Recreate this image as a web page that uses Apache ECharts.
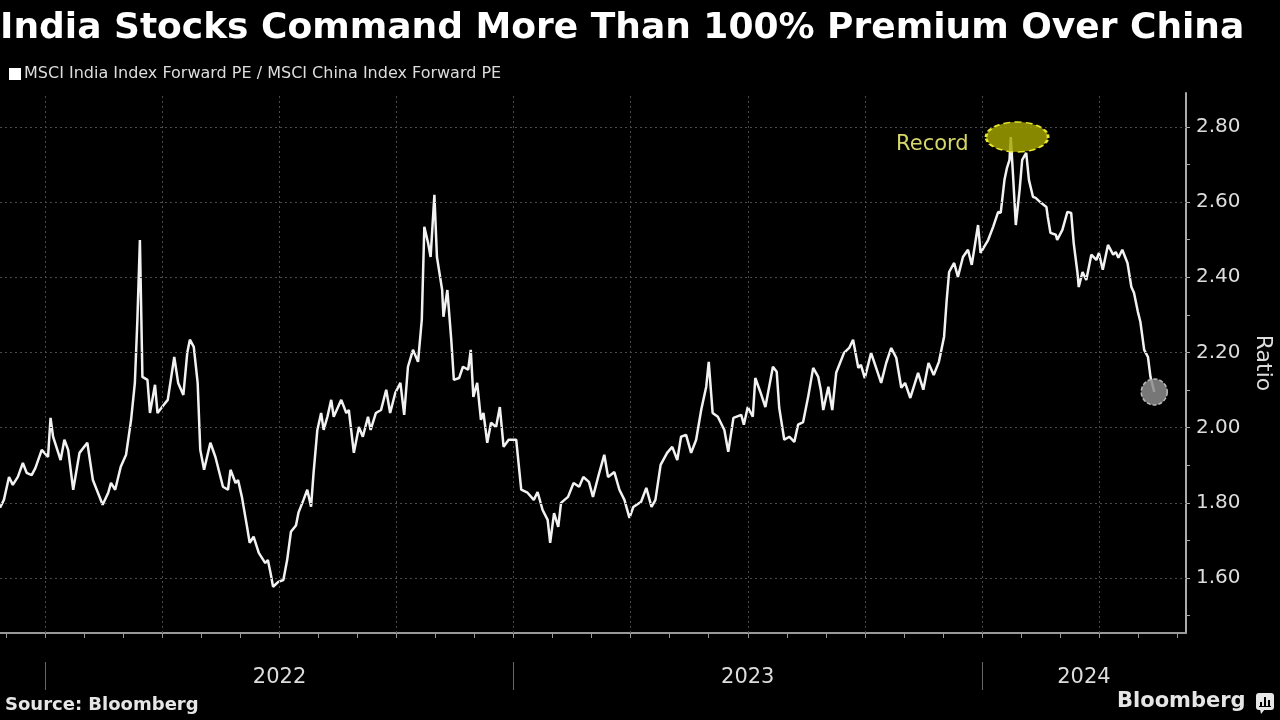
<!DOCTYPE html>
<html><head><meta charset="utf-8">
<script src="https://cdn.jsdelivr.net/npm/echarts@6/dist/echarts.min.js"></script>
<style>html,body{margin:0;padding:0;background:#000;}#c{width:1280px;height:720px;}</style>
</head><body><div id="c"></div>
<script>
const titleText = 'India Stocks Command More Than 100% Premium Over China';
const seriesName = 'MSCI India Index Forward PE / MSCI China Index Forward PE';
const sourceText = 'Source: Bloomberg';
const brandText = 'Bloomberg';
const yAxisName = 'Ratio';
const recordText = 'Record';

const dates = [
'2021-11-26','2021-11-29','2021-12-03','2021-12-06','2021-12-10','2021-12-14','2021-12-17','2021-12-21','2021-12-24','2021-12-29',
'2022-01-03','2022-01-05','2022-01-07','2022-01-13','2022-01-16','2022-01-19','2022-01-23','2022-01-28','2022-02-03','2022-02-07',
'2022-02-14','2022-02-18','2022-02-20','2022-02-23','2022-02-27','2022-03-03','2022-03-07','2022-03-10','2022-03-12','2022-03-14',
'2022-03-16','2022-03-20','2022-03-22','2022-03-26','2022-03-28','2022-04-02','2022-04-05','2022-04-10','2022-04-13','2022-04-17',
'2022-04-20','2022-04-22','2022-04-25','2022-04-28','2022-04-30','2022-05-03','2022-05-08','2022-05-12','2022-05-18','2022-05-22',
'2022-05-24','2022-05-28','2022-05-30','2022-06-02','2022-06-06','2022-06-08','2022-06-11','2022-06-15','2022-06-20','2022-06-22',
'2022-06-24','2022-06-26','2022-06-30','2022-07-04','2022-07-07','2022-07-10','2022-07-14','2022-07-16','2022-07-20','2022-07-23',
'2022-07-26','2022-07-28','2022-07-31','2022-08-03','2022-08-05','2022-08-08','2022-08-11','2022-08-13','2022-08-19','2022-08-23',
'2022-08-25','2022-08-29','2022-09-02','2022-09-05','2022-09-09','2022-09-11','2022-09-15','2022-09-19','2022-09-23','2022-09-26',
'2022-09-30','2022-10-04','2022-10-07','2022-10-10','2022-10-14','2022-10-18','2022-10-21','2022-10-23','2022-10-26','2022-10-28',
'2022-10-31','2022-11-02','2022-11-06','2022-11-07','2022-11-10','2022-11-13','2022-11-15','2022-11-19','2022-11-22','2022-11-26',
'2022-11-28','2022-11-30','2022-12-03','2022-12-06','2022-12-08','2022-12-11','2022-12-14','2022-12-18','2022-12-21','2022-12-24',
'2022-12-28','2023-01-03','2023-01-07','2023-01-12','2023-01-17','2023-01-20','2023-01-24','2023-01-28','2023-01-30','2023-02-02',
'2023-02-05','2023-02-07','2023-02-12','2023-02-16','2023-02-20','2023-02-23','2023-02-27','2023-03-02','2023-03-07','2023-03-11',
'2023-03-14','2023-03-19','2023-03-23','2023-03-27','2023-03-31','2023-04-03','2023-04-09','2023-04-13','2023-04-17','2023-04-20',
'2023-04-24','2023-04-29','2023-05-03','2023-05-07','2023-05-10','2023-05-14','2023-05-18','2023-05-22','2023-05-26','2023-05-30',
'2023-06-01','2023-06-04','2023-06-08','2023-06-13','2023-06-16','2023-06-20','2023-06-26','2023-06-28','2023-07-01','2023-07-05',
'2023-07-07','2023-07-11','2023-07-15','2023-07-21','2023-07-24','2023-07-26','2023-07-30','2023-08-03','2023-08-07','2023-08-10',
'2023-08-14','2023-08-18','2023-08-22','2023-08-26','2023-08-28','2023-08-30','2023-09-03','2023-09-06','2023-09-09','2023-09-15',
'2023-09-19','2023-09-22','2023-09-26','2023-09-28','2023-10-01','2023-10-06','2023-10-10','2023-10-14','2023-10-18','2023-10-22',
'2023-10-26','2023-10-30','2023-11-02','2023-11-06','2023-11-12','2023-11-16','2023-11-20','2023-11-24','2023-11-28','2023-12-02',
'2023-12-04','2023-12-06','2023-12-10','2023-12-13','2023-12-17','2023-12-21','2023-12-24','2023-12-29','2023-12-31','2024-01-06',
'2024-01-10','2024-01-14','2024-01-16','2024-01-19','2024-01-21','2024-01-23','2024-01-24','2024-01-26','2024-01-28','2024-01-31',
'2024-02-02','2024-02-05','2024-02-07','2024-02-10','2024-02-12','2024-02-16','2024-02-20','2024-02-21','2024-02-23','2024-02-27',
'2024-02-28','2024-03-03','2024-03-07','2024-03-10','2024-03-12','2024-03-15','2024-03-16','2024-03-19','2024-03-22','2024-03-26',
'2024-03-30','2024-04-01','2024-04-04','2024-04-08','2024-04-12','2024-04-14','2024-04-16','2024-04-19','2024-04-23','2024-04-26',
'2024-04-28','2024-05-01','2024-05-03','2024-05-06','2024-05-09','2024-05-11','2024-05-14'
];
const ratios = [
1.787,1.808,1.869,1.848,1.869,1.906,1.880,1.874,1.893,1.941,
1.922,2.026,1.976,1.914,1.968,1.941,1.835,1.933,1.960,1.861,
1.795,1.827,1.853,1.835,1.896,1.928,2.021,2.119,2.287,2.499,
2.135,2.127,2.039,2.114,2.039,2.061,2.074,2.188,2.119,2.087,
2.199,2.234,2.215,2.119,1.941,1.888,1.960,1.922,1.843,1.835,
1.888,1.853,1.861,1.816,1.736,1.694,1.710,1.667,1.640,1.648,
1.614,1.577,1.590,1.595,1.648,1.723,1.740,1.774,1.808,1.835,
1.790,1.880,1.994,2.039,1.994,2.029,2.074,2.029,2.074,2.039,
2.047,1.933,2.002,1.976,2.029,1.994,2.039,2.047,2.101,2.039,
2.093,2.119,2.034,2.162,2.207,2.175,2.287,2.534,2.491,2.454,
2.619,2.454,2.366,2.295,2.366,2.234,2.127,2.132,2.162,2.154,
2.207,2.082,2.119,2.021,2.039,1.960,2.013,2.002,2.055,1.949,
1.968,1.968,1.835,1.827,1.808,1.829,1.781,1.755,1.694,1.773,
1.736,1.800,1.816,1.853,1.843,1.869,1.856,1.816,1.880,1.928,
1.869,1.882,1.835,1.808,1.760,1.789,1.803,1.840,1.789,1.808,
1.901,1.933,1.949,1.914,1.976,1.981,1.933,1.968,2.047,2.109,
2.175,2.039,2.029,1.994,1.936,2.026,2.034,2.008,2.055,2.029,
2.132,2.095,2.055,2.162,2.149,2.053,1.968,1.976,1.962,2.008,
2.015,2.082,2.159,2.135,2.101,2.047,2.109,2.047,2.146,2.199,
2.212,2.234,2.159,2.167,2.132,2.199,2.159,2.119,2.172,2.212,
2.186,2.106,2.119,2.079,2.146,2.101,2.172,2.140,2.175,2.242,
2.336,2.414,2.438,2.401,2.454,2.473,2.433,2.539,2.465,2.499,
2.534,2.574,2.571,2.659,2.691,2.712,2.773,2.659,2.539,2.632,
2.712,2.731,2.659,2.614,2.611,2.598,2.587,2.561,2.518,2.513,
2.499,2.526,2.574,2.571,2.491,2.412,2.374,2.414,2.393,2.460,
2.446,2.465,2.420,2.486,2.460,2.467,2.452,2.473,2.438,2.374,
2.359,2.308,2.281,2.207,2.188,2.135,2.095
];

const yLabelValues = [1.6, 1.8, 2.0, 2.2, 2.4, 2.6, 2.8];
const yTickValues = [1.5, 1.6, 1.7, 1.8, 1.9, 2.0, 2.1, 2.2, 2.3, 2.4, 2.5, 2.6, 2.7, 2.8];
const yearLabels = ['2022', '2023', '2024'];
const axisStartDate = '2021-11-26';
const axisEndDate = '2024-06-08';
const yMin = 1.454;
const yMax = 2.89;
const recordDate = '2024-01-29';
const recordValue = 2.773;

// months since 2022-01-01 (fractional)
function toM(s) {
  const p = s.split('-').map(Number);
  const dim = new Date(p[0], p[1], 0).getDate();
  return (p[0] - 2022) * 12 + (p[1] - 1) + (p[2] - 1) / dim;
}

const xMin = toM(axisStartDate);
const xMax = toM(axisEndDate);
const monthTicks = [];
for (let m = Math.ceil(xMin); m <= Math.floor(xMax); m++) monthTicks.push(m);
const quarterLines = monthTicks.filter(m => m % 3 === 0);
const yearBounds = monthTicks.filter(m => m % 12 === 0);
const yearCenters = yearLabels.map(y => {
  const s = toM(y + '-01-01');
  const e = Math.min(toM((+y + 1) + '-01-01'), xMax);
  return (s + e) / 2;
});

const seriesData = dates.map((d, i) => [toM(d), ratios[i]]);
const lastPoint = seriesData[seriesData.length - 1];

const FONT = 'DejaVu Sans';
const chart = echarts.init(document.getElementById('c'), null, { renderer: 'canvas' });

const option = {
  backgroundColor: '#000',
  animation: false,
  title: {
    text: titleText, left: 0, top: 11, padding: 0,
    textStyle: { color: '#fff', fontSize: 36, fontWeight: 'bold', fontFamily: FONT }
  },
  legend: {
    data: [seriesName], left: 9, top: 66, padding: 0,
    icon: 'rect', itemWidth: 12, itemHeight: 12,
    textStyle: { color: '#ddd', fontSize: 16, fontFamily: FONT, padding: [0, 0, 0, -2] }
  },
  grid: { left: 0, right: 94, top: 93, bottom: 87, containLabel: false, outerBoundsMode: 'none' },
  xAxis: [
    {
      type: 'value', min: xMin, max: xMax,
      splitLine: { show: false },
      axisLine: { show: true, onZero: false, lineStyle: { color: '#999', width: 2 } },
      axisTick: { show: true, customValues: monthTicks, length: 5, lineStyle: { color: '#999', width: 1 } },
      axisLabel: {
        customValues: yearCenters, margin: 34, color: '#ddd', fontSize: 21, fontFamily: FONT,
        formatter: v => { const i = yearCenters.findIndex(c => Math.abs(c - v) < 1e-6); return i >= 0 ? yearLabels[i] : ''; }
      }
    },
    {
      type: 'value', min: xMin, max: xMax, position: 'bottom', offset: 29,
      splitLine: { show: false },
      axisLine: { show: false, onZero: false },
      axisTick: { show: true, customValues: yearBounds, length: 28, lineStyle: { color: '#666', width: 1 } },
      axisLabel: { show: false }
    }
  ],
  yAxis: {
    type: 'value', position: 'right', min: yMin, max: yMax,
    splitLine: { show: false },
    axisLine: { show: true, onZero: false, lineStyle: { color: '#aaa', width: 2 } },
    axisTick: { show: true, customValues: yTickValues, length: 4, lineStyle: { color: '#aaa' } },
    axisLabel: {
      customValues: yLabelValues, margin: 10, color: '#ddd', fontSize: 20, fontFamily: FONT,
      formatter: v => v.toFixed(2)
    },
    name: yAxisName, nameLocation: 'middle', nameRotate: -90, nameGap: 66,
    nameTextStyle: { color: '#ddd', fontSize: 22, fontFamily: FONT }
  },
  series: [
    {
      name: 'gridlines', type: 'line', data: [], silent: true, z: 1,
      markLine: {
        silent: true, animation: false, symbol: ['none', 'none'],
        label: { show: false },
        lineStyle: { type: [2, 3], color: '#4a4a4a', width: 1 },
        emphasis: { disabled: true },
        data: quarterLines.map(v => ({ xAxis: v })).concat(yLabelValues.map(v => ({ yAxis: v })))
      }
    },
    {
      name: seriesName, type: 'line', data: seriesData, z: 3,
      showSymbol: false, symbol: 'none',
      lineStyle: { color: '#f2f2f2', width: 2.5 },
      itemStyle: { color: '#fff' },
      markPoint: {
        animation: false, silent: true,
        data: [
          {
            coord: [toM(recordDate), recordValue],
            symbol: 'path://M0,50 A50,50 0 1,1 100,50 A50,50 0 1,1 0,50 Z',
            symbolSize: [62, 30],
            itemStyle: { color: 'rgba(165,165,0,0.82)', borderColor: '#e6e62e', borderWidth: 2, borderType: [5, 3] },
            label: { show: true, position: 'left', distance: 16, offset: [0, 8], formatter: recordText,
                     color: '#d6d66a', fontSize: 21, fontFamily: FONT }
          },
          {
            coord: lastPoint,
            symbol: 'circle', symbolSize: 26,
            itemStyle: { color: 'rgba(140,140,140,0.85)', borderColor: '#bbb', borderWidth: 1.5, borderType: [4, 2] },
            label: { show: false }
          }
        ]
      }
    }
  ],
  graphic: [
    { type: 'text', left: 5, top: 696, style: { text: sourceText, fill: '#e6e6e6', font: 'bold 18px "DejaVu Sans"' } },
    { type: 'text', left: 1117, top: 691, style: { text: brandText, fill: '#e6e6e6', font: 'bold 21px "DejaVu Sans"' } },
    {
      type: 'group', left: 1256, top: 693,
      children: [
        { type: 'rect', shape: { x: 0, y: 0, width: 18, height: 17, r: 3 }, style: { fill: '#e6e6e6' } },
        { type: 'polygon', shape: { points: [[4, 16], [9, 16], [5, 21]] }, style: { fill: '#e6e6e6' } },
        { type: 'rect', shape: { x: 4, y: 9, width: 2, height: 5 }, style: { fill: '#000' } },
        { type: 'rect', shape: { x: 8, y: 4, width: 2, height: 10 }, style: { fill: '#000' } },
        { type: 'rect', shape: { x: 12, y: 7, width: 2, height: 7 }, style: { fill: '#000' } },
        { type: 'rect', shape: { x: 3, y: 13, width: 12, height: 1 }, style: { fill: '#000' } }
      ]
    }
  ]
};
chart.setOption(option);
</script>
</body></html>
